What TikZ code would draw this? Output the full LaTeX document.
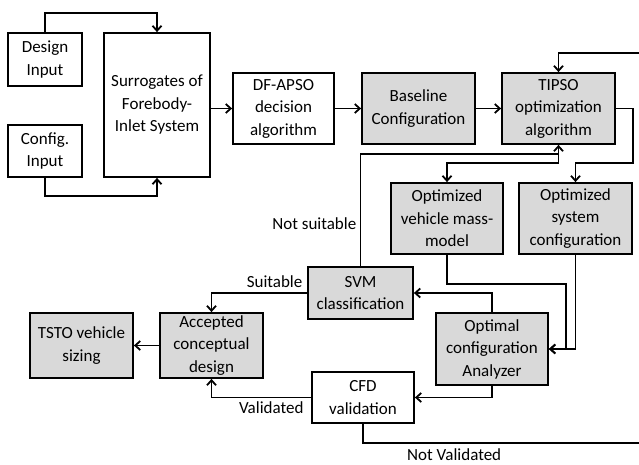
\documentclass[tikz,border=0pt]{standalone}
\usepackage{fontspec}
\setmainfont{Carlito}
\usetikzlibrary{positioning, arrows.meta, calc}
\definecolor{cG}{RGB}{217,217,217}

\begin{document}
\begin{tikzpicture}[x=1pt, y=-1pt, line width=1.8pt,
    font=\fontsize{17}{22.5}\selectfont,
    blk/.style={draw, align=center, inner sep=0pt},
    gblk/.style={blk, fill=cG},
    arr/.style={-{Straight Barb[length=5pt, width=9pt]}}]
    \useasboundingbox (0,0) rectangle (639,465);

    \node[blk, minimum width=74pt, minimum height=53pt] (din) at (45,59.5) {Design\\Input};
    \node[blk, minimum width=74pt, minimum height=52pt] (cin) at (45,151) {Config.\\Input};
    \node[blk, minimum width=106pt, minimum height=144pt] (surr) at (157,105) {Surrogates of\\Forebody-\\Inlet System};
    \node[blk, minimum width=101pt, minimum height=71pt] (dfapso) at (283.5,108.5) {DF-APSO\\decision\\algorithm};
    \node[gblk, minimum width=113pt, minimum height=71pt] (base) at (418.5,108.5) {Baseline\\Configuration};
    \node[gblk, minimum width=113pt, minimum height=71pt] (tipso) at (558.5,108.5) {TIPSO\\optimization\\algorithm};
    \node[gblk, minimum width=112pt, minimum height=71pt] (mass) at (447,218.5) {Optimized\\vehicle mass-\\model};
    \node[gblk, minimum width=113pt, minimum height=71pt] (sysc) at (575.5,218.5) {Optimized\\system\\configuration};
    \node[gblk, minimum width=105pt, minimum height=52pt] (svm) at (360.5,293) {SVM\\classification};
    \node[gblk, minimum width=112pt, minimum height=72pt] (opt) at (492,349) {Optimal\\configuration\\Analyzer};
    \node[blk, minimum width=102pt, minimum height=51pt] (cfd) at (363,397.5) {CFD\\validation};
    \node[gblk, minimum width=103pt, minimum height=65pt] (acc) at (211.5,345.5) {Accepted\\conceptual\\design};
    \node[gblk, minimum width=103pt, minimum height=65pt] (tsto) at (81.5,345.5) {TSTO vehicle\\sizing};
    \coordinate (rt) at (648,53);

    \draw[arr] (din.north) -- ++(0,-19) -| (surr.north);
    \draw[arr] (cin.south) -- ++(0,18) -| (surr.south);
    \draw[arr] (surr.east |- dfapso.west) -- (dfapso.west);
    \draw[arr] (dfapso) -- (base);
    \draw[arr] (base) -- (tipso);
    \draw[arr] (tipso.east) -| ([yshift=19pt]sysc.north east) -| (sysc.north);
    \draw[arr] (tipso.south) -- ++(0,18) -| (mass.north);
    \draw[arr] (svm.north) -- ++(0,-112) node[pos=0.38, left] {Not suitable} -| (tipso.south);
    \draw[arr] (mass.south) -- ++(0,29) -| ([xshift=17pt]opt.east) -- (opt.east);
    \draw[arr] (sysc.south) |- (opt.east);
    \draw[arr] (opt.north) |- (svm.east);
    \draw[arr] (opt.south) |- (cfd.east);
    \draw[arr] (svm.west) -| node[pos=0.17, above, yshift=1pt] {Suitable} (acc.north);
    \draw[arr] (cfd.west) -| node[pos=0.2, below] {Validated} (acc.south);
    \draw[arr] (acc) -- (tsto);
    \draw[arr] (cfd.south) -- ++(0,19) node[pos=1, below right, xshift=40pt, yshift=-2pt] (nv) {Not Validated} -| (rt) -| (tipso.north);
\end{tikzpicture}
\end{document}
